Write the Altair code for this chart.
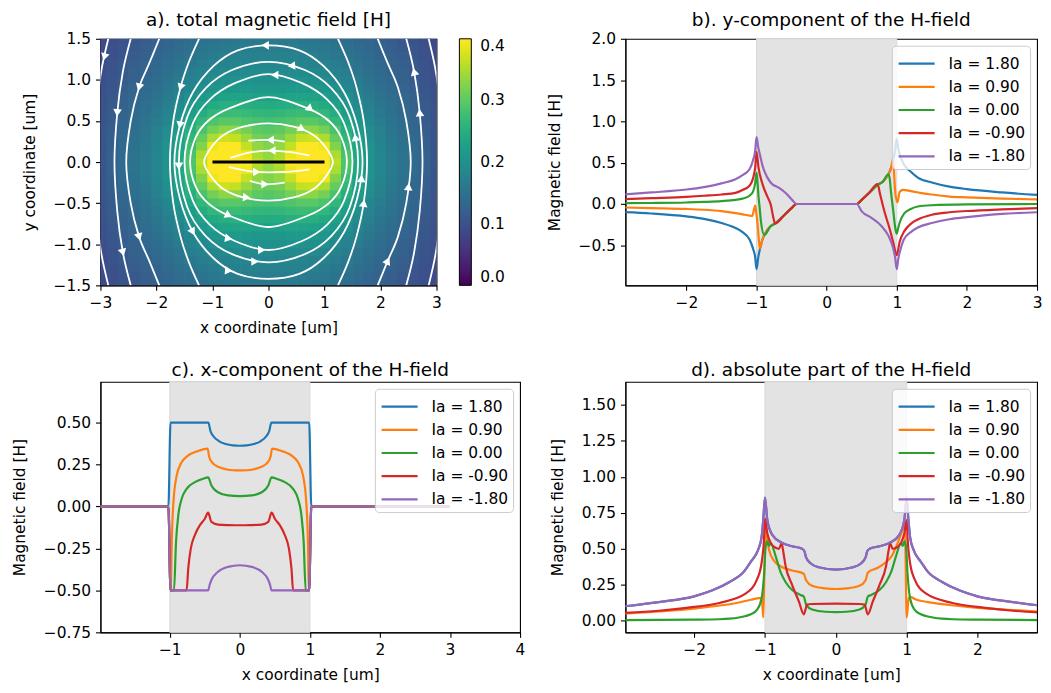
import altair as alt
import pandas as pd

FONT = "DejaVu Sans"
FS = 15.5
TFS = 18.6

SERIES = ["Ia = 1.80", "Ia = 0.90", "Ia = 0.00", "Ia = -0.90", "Ia = -1.80"]
COLORS = ["#1f77b4", "#ff7f0e", "#2ca02c", "#d62728", "#9467bd"]
BAND = [-1.0, 1.0]

# ---------------- panel a: |H| map (quadrant x>=0, y>=0; the map is mirror symmetric) -------------
grid_x = [0.0, 0.2, 0.4, 0.6, 0.8, 1.0, 1.2, 1.4, 1.6, 1.8, 2.0, 2.2, 2.4, 2.6, 2.8, 3.0]
grid_y = [0.0, 0.1, 0.2, 0.3, 0.4, 0.5, 0.6, 0.7, 0.8, 0.9, 1.0, 1.1, 1.2, 1.3, 1.4, 1.5]
field_y00 = [0.34, 0.36, 0.40, 0.45, 0.47, 0.50, 0.36, 0.29, 0.24, 0.205, 0.183, 0.165, 0.152, 0.138, 0.122, 0.108]
field_y01 = [0.335, 0.35, 0.39, 0.43, 0.44, 0.44, 0.35, 0.285, 0.238, 0.204, 0.182, 0.164, 0.151, 0.137, 0.121, 0.107]
field_y02 = [0.325, 0.335, 0.365, 0.40, 0.41, 0.39, 0.325, 0.275, 0.233, 0.201, 0.18, 0.163, 0.15, 0.136, 0.12, 0.106]
field_y03 = [0.31, 0.315, 0.34, 0.365, 0.37, 0.35, 0.305, 0.262, 0.226, 0.197, 0.177, 0.16, 0.148, 0.134, 0.119, 0.105]
field_y04 = [0.295, 0.30, 0.315, 0.33, 0.33, 0.315, 0.285, 0.25, 0.217, 0.192, 0.173, 0.157, 0.145, 0.132, 0.117, 0.104]
field_y05 = [0.28, 0.283, 0.29, 0.297, 0.297, 0.288, 0.265, 0.236, 0.208, 0.186, 0.168, 0.153, 0.142, 0.13, 0.115, 0.103]
field_y06 = [0.263, 0.265, 0.27, 0.273, 0.272, 0.264, 0.246, 0.222, 0.198, 0.179, 0.163, 0.149, 0.138, 0.127, 0.113, 0.101]
field_y07 = [0.245, 0.246, 0.25, 0.252, 0.25, 0.243, 0.228, 0.209, 0.189, 0.172, 0.157, 0.145, 0.135, 0.124, 0.111, 0.1]
field_y08 = [0.228, 0.229, 0.231, 0.232, 0.23, 0.224, 0.212, 0.197, 0.18, 0.165, 0.152, 0.141, 0.131, 0.121, 0.109, 0.098]
field_y09 = [0.213, 0.214, 0.215, 0.215, 0.213, 0.208, 0.198, 0.186, 0.172, 0.159, 0.147, 0.137, 0.128, 0.118, 0.107, 0.097]
field_y10 = [0.2, 0.2, 0.201, 0.201, 0.199, 0.195, 0.187, 0.176, 0.164, 0.153, 0.142, 0.133, 0.124, 0.115, 0.105, 0.095]
field_y11 = [0.19, 0.19, 0.19, 0.19, 0.188, 0.184, 0.177, 0.168, 0.157, 0.147, 0.137, 0.129, 0.121, 0.112, 0.103, 0.093]
field_y12 = [0.182, 0.182, 0.181, 0.18, 0.178, 0.174, 0.168, 0.16, 0.151, 0.142, 0.133, 0.125, 0.118, 0.11, 0.101, 0.092]
field_y13 = [0.175, 0.175, 0.174, 0.172, 0.17, 0.166, 0.16, 0.153, 0.145, 0.137, 0.129, 0.121, 0.114, 0.107, 0.099, 0.09]
field_y14 = [0.168, 0.168, 0.167, 0.165, 0.163, 0.159, 0.154, 0.147, 0.14, 0.132, 0.125, 0.118, 0.111, 0.104, 0.097, 0.089]
field_y15 = [0.162, 0.162, 0.161, 0.159, 0.157, 0.153, 0.148, 0.142, 0.135, 0.128, 0.121, 0.114, 0.108, 0.101, 0.094, 0.087]
field_rows = [field_y00, field_y01, field_y02, field_y03, field_y04, field_y05, field_y06, field_y07,
              field_y08, field_y09, field_y10, field_y11, field_y12, field_y13, field_y14, field_y15]
HALF_DX = 0.106   # cells overlap slightly so that no seams show
HALF_DY = 0.056

# streamlines: first-quadrant points, from the top crossing to the right crossing
loop1_x = [0.0, 0.45, 0.8, 1.02, 1.15]
loop1_y = [0.47, 0.43, 0.33, 0.18, 0.0]
loop2_x = [0.0, 0.71, 1.08, 1.3, 1.4]
loop2_y = [0.79, 0.65, 0.5, 0.3, 0.0]
loop3_x = [0.0, 0.6, 1.05, 1.35, 1.5]
loop3_y = [1.07, 0.96, 0.76, 0.47, 0.0]
loop4_x = [0.0, 0.65, 1.12, 1.45, 1.6]
loop4_y = [1.22, 1.12, 0.9, 0.55, 0.0]
loop5_x = [0.0, 0.55, 0.98, 1.35, 1.58, 1.68]
loop5_y = [1.42, 1.36, 1.17, 0.85, 0.45, 0.0]
arc6_x = [1.24, 1.42, 1.57, 1.7, 1.76]
arc6_y = [1.5, 1.22, 0.91, 0.5, 0.0]
arc7_x = [1.95, 2.13, 2.31, 2.46, 2.54]
arc7_y = [1.5, 1.2, 0.91, 0.5, 0.0]
arc8_x = [2.46, 2.6, 2.7, 2.75]
arc8_y = [1.5, 1.1, 0.6, 0.0]
arc9_x = [2.86, 3.0, 3.08, 3.1]
arc9_y = [1.5, 1.05, 0.5, 0.0]
seg1_x = [-0.36, 0.0, 0.29]
seg1_y = [0.26, 0.27, 0.25]
seg2_x = [-0.68, -0.3, 0.06, 0.4, 0.73]
seg2_y = [0.05, 0.12, 0.14, 0.12, 0.08]
seg3_x = [-0.71, -0.21, 0.3, 0.73]
seg3_y = [-0.06, -0.12, -0.12, -0.09]
seg4_x = [-0.33, -0.06, 0.29]
seg4_y = [-0.23, -0.27, -0.25]

arrow_x = [-0.06, 0.41, 0.11, 0.71, 0.56, 0.03, 0.06, -0.21, -0.06, -0.39, -0.71, -0.71, -0.12, -0.24, -0.71,
           -1.57, -2.31, -2.31, -2.7, -2.6, -1.58, -1.35, -1.6, -2.93, 1.7, 2.5, 2.13, 2.7, 2.6, 1.66, 1.55]
arrow_y = [1.42, 1.17, 1.06, 0.65, 0.40, 0.27, 0.14, -0.12, -0.27, -0.43, -0.65, -0.93, -1.07, -1.21, -1.32,
           0.91, 0.91, -0.91, 0.6, -1.1, 0.45, -0.85, -0.05, 1.28, -0.5, -0.3, -1.2, 0.6, 1.1, -0.2, 0.3]
arrow_ang = [270, 265, 270, 250, 240, 270, 270, 90, 90, 95, 115, 100, 90, 90, 95,
             198, 195, 165, 185, 165, 190, 150, 180, 195, 8, 5, 25, 355, 345, 3, 350]

strip_x = [-1.0, 1.0]
strip_y = [0.0, 0.0]

# ---------------- panel b: y-component ----------------
b_x = [
    [-3.0, -2.5, -2.0, -1.75, -1.5, -1.3, -1.2, -1.1, -1.05, -1.02, -1.0, -0.975, -0.95, -0.92, -0.88, -0.8, -0.73,
     -0.6, -0.5, -0.43, 0.43, 0.5, 0.6, 0.73, 0.8, 0.88, 0.92, 0.95, 0.975, 1.0, 1.02, 1.05, 1.1, 1.2, 1.3, 1.5,
     1.75, 2.0, 2.5, 3.0],
    [-3.0, -2.5, -2.0, -1.75, -1.5, -1.3, -1.2, -1.1, -1.06, -1.035, -1.02, -1.005, -0.985, -0.965, -0.95, -0.92,
     -0.88, -0.8, -0.73, -0.6, -0.5, -0.43, 0.43, 0.5, 0.6, 0.73, 0.8, 0.88, 0.92, 0.95, 0.962, 0.98, 1.01, 1.04,
     1.09, 1.2, 1.4, 1.5, 1.75, 2.0, 2.5, 3.0],
    [-3.0, -2.5, -2.0, -1.75, -1.5, -1.3, -1.2, -1.1, -1.05, -1.02, -1.0, -0.985, -0.972, -0.955, -0.94, -0.89, -0.8,
     -0.73, -0.6, -0.5, -0.43, 0.43, 0.5, 0.6, 0.73, 0.8, 0.88, 0.9, 0.915, 0.948, 0.98, 1.0, 1.02, 1.04, 1.11, 1.2,
     1.3, 1.5, 2.0, 3.0],
    [-3.0, -2.5, -2.0, -1.75, -1.5, -1.3, -1.2, -1.1, -1.05, -1.02, -1.0, -0.972, -0.915, -0.844, -0.797, -0.764,
     -0.736, -0.6, -0.5, -0.43, 0.43, 0.5, 0.6, 0.726, 0.76, 0.83, 0.9, 0.948, 1.0, 1.04, 1.11, 1.2, 1.3, 1.5, 1.75,
     2.0, 2.5, 3.0],
    [-3.0, -2.5, -2.0, -1.75, -1.5, -1.3, -1.2, -1.1, -1.05, -1.02, -1.0, -0.975, -0.95, -0.92, -0.89, -0.8, -0.68,
     -0.585, -0.49, -0.43, 0.43, 0.5, 0.64, 0.78, 0.88, 0.95, 0.975, 1.0, 1.02, 1.05, 1.1, 1.2, 1.3, 1.5, 1.75, 2.0,
     2.5, 3.0],
]
b_y = [
    [-0.095, -0.115, -0.15, -0.18, -0.23, -0.29, -0.34, -0.43, -0.54, -0.64, -0.79, -0.64, -0.54, -0.44, -0.36,
     -0.27, -0.235, -0.13, -0.05, 0.0, 0.0, 0.05, 0.13, 0.235, 0.27, 0.36, 0.44, 0.54, 0.64, 0.79, 0.68, 0.58, 0.48,
     0.39, 0.32, 0.26, 0.21, 0.18, 0.14, 0.11],
    [-0.04, -0.05, -0.06, -0.07, -0.087, -0.11, -0.125, -0.14, -0.145, -0.06, -0.02, -0.1, -0.25, -0.45, -0.54,
     -0.44, -0.36, -0.27, -0.235, -0.13, -0.05, 0.0, 0.0, 0.05, 0.13, 0.235, 0.27, 0.36, 0.44, 0.555, 0.36, 0.125,
     0.02, 0.145, 0.17, 0.156, 0.125, 0.115, 0.09, 0.08, 0.065, 0.056],
    [0.01, 0.012, 0.018, 0.025, 0.035, 0.05, 0.065, 0.1, 0.15, 0.25, 0.38, 0.25, 0.09, -0.05, -0.19, -0.375, -0.27,
     -0.235, -0.13, -0.05, 0.0, 0.0, 0.05, 0.13, 0.235, 0.27, 0.36, 0.3, 0.164, -0.07, -0.3, -0.36, -0.29, -0.227,
     -0.11, -0.06, -0.03, -0.015, -0.005, 0.0],
    [0.055, 0.07, 0.086, 0.1, 0.115, 0.135, 0.17, 0.22, 0.31, 0.44, 0.63, 0.44, 0.24, 0.086, -0.01, -0.15, -0.235,
     -0.13, -0.05, 0.0, 0.0, 0.05, 0.13, 0.242, 0.125, -0.11, -0.305, -0.46, -0.62, -0.46, -0.325, -0.24, -0.188,
     -0.13, -0.1, -0.085, -0.065, -0.05],
    [0.11, 0.14, 0.175, 0.205, 0.25, 0.3, 0.35, 0.42, 0.53, 0.64, 0.81, 0.68, 0.59, 0.48, 0.40, 0.26, 0.195, 0.133,
     0.047, 0.0, 0.0, -0.09, -0.168, -0.266, -0.383, -0.54, -0.64, -0.79, -0.67, -0.56, -0.43, -0.34, -0.285, -0.23,
     -0.185, -0.16, -0.12, -0.1],
]

# ---------------- panel c: x-component ----------------
c_x = [
    [-3.0, -1.02, -0.99, -0.45, -0.42, -0.38, -0.3, -0.2, -0.1, 0.0, 0.1, 0.2, 0.3, 0.38, 0.42, 0.45, 0.99, 1.02, 3.0],
    [-3.0, -1.02, -0.99, -0.985, -0.972, -0.948, -0.902, -0.831, -0.75, -0.6, -0.46, -0.44, -0.4, -0.3, -0.2, -0.1,
     0.0, 0.1, 0.2, 0.3, 0.4, 0.44, 0.46, 0.6, 0.75, 0.831, 0.902, 0.948, 0.972, 0.985, 0.99, 1.02, 3.0],
    [-3.0, -1.02, -0.99, -0.94, -0.911, -0.878, -0.831, -0.76, -0.642, -0.524, -0.453, -0.406, -0.312, -0.17, 0.0,
     0.17, 0.312, 0.406, 0.453, 0.524, 0.642, 0.76, 0.831, 0.878, 0.911, 0.94, 0.99, 1.02, 3.0],
    [-3.0, -1.02, -0.99, -0.76, -0.737, -0.70, -0.642, -0.571, -0.5, -0.453, -0.406, -0.31, -0.15, 0.0, 0.15, 0.31,
     0.406, 0.453, 0.5, 0.571, 0.642, 0.70, 0.737, 0.76, 0.99, 1.02, 3.0],
    [-3.0, -1.02, -0.99, -0.453, -0.43, -0.406, -0.312, -0.17, 0.0, 0.17, 0.312, 0.406, 0.43, 0.453, 0.99, 1.02, 3.0],
]
c_y = [
    [0.0, 0.0, 0.5, 0.5, 0.45, 0.42, 0.39, 0.372, 0.364, 0.362, 0.364, 0.372, 0.39, 0.42, 0.45, 0.5, 0.5, 0.0, 0.0],
    [0.0, 0.0, -0.5, -0.5, -0.21, 0.026, 0.184, 0.263, 0.3, 0.33, 0.345, 0.3, 0.265, 0.235, 0.222, 0.216, 0.215,
     0.216, 0.222, 0.235, 0.265, 0.3, 0.345, 0.33, 0.3, 0.263, 0.184, 0.026, -0.21, -0.5, -0.5, 0.0, 0.0],
    [0.0, 0.0, -0.5, -0.5, -0.21, -0.05, 0.045, 0.105, 0.145, 0.165, 0.174, 0.125, 0.085, 0.066, 0.062, 0.066, 0.085,
     0.125, 0.174, 0.165, 0.145, 0.105, 0.045, -0.05, -0.21, -0.5, -0.5, 0.0, 0.0],
    [0.0, 0.0, -0.5, -0.5, -0.37, -0.25, -0.17, -0.112, -0.073, -0.037, -0.092, -0.108, -0.111, -0.112, -0.111,
     -0.108, -0.092, -0.037, -0.073, -0.112, -0.17, -0.25, -0.37, -0.5, -0.5, 0.0, 0.0],
    [0.0, 0.0, -0.5, -0.5, -0.465, -0.438, -0.389, -0.36, -0.35, -0.36, -0.389, -0.438, -0.465, -0.5, -0.5, 0.0, 0.0],
]

# ---------------- panel d: absolute value ----------------
d_purple_x = [-3.0, -2.5, -2.0, -1.75, -1.5, -1.3, -1.2, -1.1, -1.05, -1.025, -1.0, -0.967, -0.897, -0.756, -0.616,
              -0.476, -0.443, -0.42, -0.358, -0.24, 0.0, 0.24, 0.358, 0.42, 0.443, 0.476, 0.616, 0.756, 0.897, 0.967,
              1.0, 1.025, 1.05, 1.1, 1.2, 1.3, 1.5, 1.75, 2.0, 2.5, 3.0]
d_purple_y = [0.1, 0.13, 0.17, 0.21, 0.27, 0.34, 0.41, 0.49, 0.575, 0.70, 0.856, 0.70, 0.597, 0.54, 0.518, 0.5,
              0.484, 0.44, 0.40, 0.372, 0.356, 0.372, 0.40, 0.44, 0.484, 0.5, 0.518, 0.54, 0.597, 0.70, 0.856, 0.70,
              0.575, 0.49, 0.41, 0.34, 0.27, 0.21, 0.17, 0.13, 0.1]
d_orange_x = [-3.0, -2.5, -2.0, -1.75, -1.5, -1.2, -1.08, -1.045, -1.025, -1.01, -0.99, -0.944, -0.873, -0.756,
              -0.616, -0.452, -0.42, -0.335, -0.148, 0.0, 0.148, 0.335, 0.42, 0.452, 0.6, 0.7, 0.79, 0.88, 0.95,
              0.975, 1.0, 1.03, 1.06, 1.12, 1.3, 1.6, 2.0, 2.5, 3.0]
d_orange_y = [0.05, 0.065, 0.085, 0.1, 0.115, 0.146, 0.158, 0.158, 0.023, 0.3, 0.63, 0.495, 0.417, 0.372, 0.35,
              0.327, 0.282, 0.243, 0.225, 0.221, 0.225, 0.243, 0.282, 0.335, 0.37, 0.405, 0.45, 0.55, 0.64, 0.66,
              0.023, 0.16, 0.165, 0.15, 0.13, 0.11, 0.09, 0.075, 0.06]
d_green_x = [-3.0, -2.0, -1.646, -1.5, -1.27, -1.2, -1.108, -1.047, -1.014, -0.99, -0.967, -0.945, -0.92, -0.85,
             -0.78, -0.71, -0.616, -0.5, -0.452, -0.42, -0.335, -0.148, 0.0, 0.148, 0.335, 0.42, 0.452, 0.5, 0.616,
             0.71, 0.78, 0.85, 0.92, 0.945, 0.967, 0.99, 1.014, 1.047, 1.108, 1.2, 1.27, 1.5, 1.646, 2.0, 3.0]
d_green_y = [0.005, 0.008, 0.011, 0.015, 0.034, 0.045, 0.079, 0.158, 0.315, 0.518, 0.552, 0.52, 0.54, 0.45, 0.338,
             0.27, 0.214, 0.18, 0.169, 0.113, 0.079, 0.063, 0.061, 0.063, 0.079, 0.113, 0.169, 0.18, 0.214, 0.27,
             0.338, 0.45, 0.54, 0.52, 0.552, 0.518, 0.315, 0.158, 0.079, 0.045, 0.034, 0.015, 0.011, 0.008, 0.005]
d_red_x = [-3.0, -2.5, -2.11, -1.646, -1.27, -1.108, -1.047, -1.014, -1.0, -0.967, -0.92, -0.85, -0.803, -0.766,
           -0.747, -0.71, -0.616, -0.522, -0.452, -0.405, -0.335, 0.0, 0.335, 0.405, 0.452, 0.522, 0.616, 0.71,
           0.747, 0.766, 0.803, 0.85, 0.92, 0.967, 1.0, 1.014, 1.047, 1.108, 1.27, 1.646, 2.11, 2.5, 3.0]
d_red_y = [0.055, 0.07, 0.09, 0.124, 0.19, 0.293, 0.405, 0.563, 0.71, 0.608, 0.54, 0.507, 0.5, 0.54, 0.495, 0.383,
           0.248, 0.135, 0.045, 0.113, 0.117, 0.119, 0.117, 0.113, 0.045, 0.135, 0.248, 0.383, 0.495, 0.54, 0.5,
           0.507, 0.54, 0.608, 0.70, 0.563, 0.405, 0.293, 0.19, 0.124, 0.09, 0.07, 0.055]
# Ia = 1.80 lies exactly under Ia = -1.80 in this panel
d_x = [d_purple_x, d_orange_x, d_green_x, d_red_x, d_purple_x]
d_y = [d_purple_y, d_orange_y, d_green_y, d_red_y, d_purple_y]


# ================= build tables =================
def heat_table():
    rows = []
    for yv, vals in zip(grid_y, field_rows):
        for xv, v in zip(grid_x, vals):
            for sx in ([1] if xv == 0 else [1, -1]):
                for sy in ([1] if yv == 0 else [1, -1]):
                    cx, cy = sx * xv, sy * yv
                    rows.append({"x1": cx - HALF_DX, "x2": cx + HALF_DX, "y1": cy - HALF_DY, "y2": cy + HALF_DY,
                                 "H": v})
    return pd.DataFrame(rows)


def closed_loop(xs, ys):
    q1 = list(zip(xs, ys))
    pts = list(q1)
    pts += [(x, -y) for x, y in reversed(q1[:-1])]
    pts += [(-x, -y) for x, y in q1[1:]]
    pts += [(-x, y) for x, y in reversed(q1[1:-1])]
    return pts


def open_arc(xs, ys, side):
    q1 = list(zip(xs, ys))
    pts = list(q1) + [(x, -y) for x, y in reversed(q1[:-1])]
    return [(side * x, y) for x, y in pts]


def rows_from(name, pts):
    return [{"line": name, "i": i, "x": x, "y": y} for i, (x, y) in enumerate(pts)]


closed_rows = []
for k, (lx, ly) in enumerate([(loop1_x, loop1_y), (loop2_x, loop2_y), (loop3_x, loop3_y),
                              (loop4_x, loop4_y), (loop5_x, loop5_y)]):
    closed_rows += rows_from(f"loop{k}", closed_loop(lx, ly))
open_rows = []
for k, (lx, ly) in enumerate([(arc6_x, arc6_y), (arc7_x, arc7_y), (arc8_x, arc8_y), (arc9_x, arc9_y)]):
    open_rows += rows_from(f"arcR{k}", open_arc(lx, ly, 1))
    open_rows += rows_from(f"arcL{k}", open_arc(lx, ly, -1))
for k, (sx, sy) in enumerate([(seg1_x, seg1_y), (seg2_x, seg2_y), (seg3_x, seg3_y), (seg4_x, seg4_y)]):
    open_rows += rows_from(f"seg{k}", list(zip(sx, sy)))

closed_df = pd.DataFrame(closed_rows)
open_df = pd.DataFrame(open_rows)
arrow_df = pd.DataFrame({"x": arrow_x, "y": arrow_y, "ang": arrow_ang})
strip_df = pd.DataFrame({"x": strip_x, "y": strip_y})

# ================= panel a =================
xa_scale = alt.Scale(domain=[-3, 3], nice=False, zero=False)
ya_scale = alt.Scale(domain=[-1.5, 1.5], nice=False, zero=False)
xa_axis = alt.Axis(title="x coordinate [um]", values=[-3, -2, -1, 0, 1, 2, 3], format="d")
ya_axis = alt.Axis(title="y coordinate [um]", values=[-1.5, -1.0, -0.5, 0.0, 0.5, 1.0, 1.5], format=".1f")
viridis = alt.Scale(type="linear", scheme="viridis", domain=[0, 0.4], clamp=True)
cbar = alt.Legend(type="gradient", title=None, orient="right", direction="vertical", gradientLength=248,
                  gradientThickness=12, offset=23, values=[0.0, 0.1, 0.2, 0.3, 0.4], format=".1f", labelOffset=9,
                  gradientStrokeColor="black", gradientStrokeWidth=1, labelOverlap=False, padding=0,
                  labelFontSize=FS, labelFont=FONT, labelColor="black")

heat = alt.Chart(heat_table()).mark_rect(clip=True).encode(
    x=alt.X("x1:Q", scale=xa_scale, axis=xa_axis), x2="x2:Q",
    y=alt.Y("y1:Q", scale=ya_scale, axis=ya_axis), y2="y2:Q",
    color=alt.Color("H:Q", scale=viridis, legend=cbar),
)
closed_lines = alt.Chart(closed_df).mark_line(color="white", strokeWidth=1.8, interpolate="cardinal-closed",
                                              clip=True).encode(
    x=alt.X("x:Q", scale=xa_scale, axis=xa_axis), y=alt.Y("y:Q", scale=ya_scale, axis=ya_axis),
    detail="line:N", order="i:Q")
open_lines = alt.Chart(open_df).mark_line(color="white", strokeWidth=1.8, interpolate="cardinal",
                                          clip=True).encode(
    x=alt.X("x:Q", scale=xa_scale, axis=xa_axis), y=alt.Y("y:Q", scale=ya_scale, axis=ya_axis),
    detail="line:N", order="i:Q")
arrows = alt.Chart(arrow_df).mark_point(shape="triangle-up", filled=True, color="white", size=75, opacity=1,
                                        clip=True).encode(
    x=alt.X("x:Q", scale=xa_scale, axis=xa_axis), y=alt.Y("y:Q", scale=ya_scale, axis=ya_axis),
    angle=alt.Angle("ang:Q", scale=None))
strip = alt.Chart(strip_df).mark_line(color="black", strokeWidth=3).encode(
    x=alt.X("x:Q", scale=xa_scale, axis=xa_axis), y=alt.Y("y:Q", scale=ya_scale, axis=ya_axis))

panel_a = alt.layer(heat, closed_lines, open_lines, arrows, strip).properties(
    width=338, height=248,
    title=alt.TitleParams("a). total magnetic field [H]", anchor="middle", fontSize=TFS, font=FONT,
                          fontWeight="normal", color="black", offset=2))


# ================= line panels =================
def line_panel(xs_list, ys_list, xdom, ydom, xvals, yvals, yfmt, title, xtitle, w, h):
    xs = alt.Scale(domain=xdom, nice=False, zero=False)
    ys = alt.Scale(domain=ydom, nice=False, zero=False)
    if xtitle is None:
        xax = alt.Axis(title=None, values=xvals, format="d")
    else:
        xax = alt.Axis(title=xtitle, values=xvals, format="d")
    yax = alt.Axis(title="Magnetic field [H]", values=yvals, format=yfmt)
    leg = alt.Legend(title=None, orient="top-right", offset=7, symbolType="M-0.9,0H2", symbolSize=625,
                     symbolStrokeWidth=2.2, labelOffset=25, rowPadding=0.3, padding=4,
                     fillColor="rgba(255,255,255,0.8)", strokeColor="#cccccc", cornerRadius=4,
                     labelFontSize=FS, labelFont=FONT, labelColor="black")
    band_df = pd.DataFrame({"b0": [BAND[0]], "b1": [BAND[1]]})
    band = alt.Chart(band_df).mark_rect(color="#e3e3e3", stroke="#d9d9d9", strokeWidth=1).encode(
        x=alt.X("b0:Q", scale=xs, axis=xax), x2="b1:Q")
    layers = [band]
    for lab, xv, yv in zip(SERIES, xs_list, ys_list):
        df = pd.DataFrame({"x": xv, "y": yv, "series": lab})
        layers.append(alt.Chart(df).mark_line(strokeWidth=2.2, clip=True, interpolate="monotone").encode(
            x=alt.X("x:Q", scale=xs, axis=xax),
            y=alt.Y("y:Q", scale=ys, axis=yax),
            color=alt.Color("series:N", scale=alt.Scale(domain=SERIES, range=COLORS), legend=leg)))
    return alt.layer(*layers).properties(
        width=w, height=h,
        title=alt.TitleParams(title, anchor="middle", fontSize=TFS, font=FONT, fontWeight="normal",
                              color="black", offset=2))


panel_b = line_panel(b_x, b_y, [-2.87, 3.0], [-0.985, 2.0], [-2, -1, 0, 1, 2, 3],
                     [-0.5, 0.0, 0.5, 1.0, 1.5, 2.0], ".1f", "b). y-component of the H-field", None, 414, 248)
panel_c = line_panel(c_x, c_y, [-1.99, 4.0], [-0.75, 0.743], [-1, 0, 1, 2, 3, 4],
                     [-0.75, -0.5, -0.25, 0.0, 0.25, 0.5], ".2f", "c). x-component of the H-field",
                     "x coordinate [um]", 422, 252)
panel_d = line_panel(d_x, d_y, [-2.97, 2.84], [-0.08, 1.66], [-2, -1, 0, 1, 2],
                     [0.0, 0.25, 0.5, 0.75, 1.0, 1.25, 1.5], ".2f", "d). absolute part of the H-field",
                     "x coordinate [um]", 414, 252)

chart = alt.concat(panel_a, panel_b, panel_c, panel_d, columns=2, bounds="flush", align="all",
                   spacing={"row": 93, "column": 106}).resolve_scale(
    x="independent", y="independent", color="independent").resolve_legend(
    color="independent").properties(
    padding={"left": 3, "top": 0, "right": 0, "bottom": 0}
).configure_axis(
    labelFont=FONT, titleFont=FONT, labelFontSize=FS, titleFontSize=FS, titleFontWeight="normal",
    labelColor="black", titleColor="black", tickColor="black", domainColor="black", tickSize=5,
    tickWidth=1.1, domainWidth=1.1, labelPadding=5, grid=False, labelFlush=False, labelOverlap=False
).configure_axisX(titlePadding=10).configure_axisY(titlePadding=16).configure_view(
    stroke="black", strokeWidth=1.1
).configure_legend(labelFont=FONT, labelFontSize=FS, labelColor="black")

chart.save("out.html", embed_options={"renderer": "svg", "actions": False})
